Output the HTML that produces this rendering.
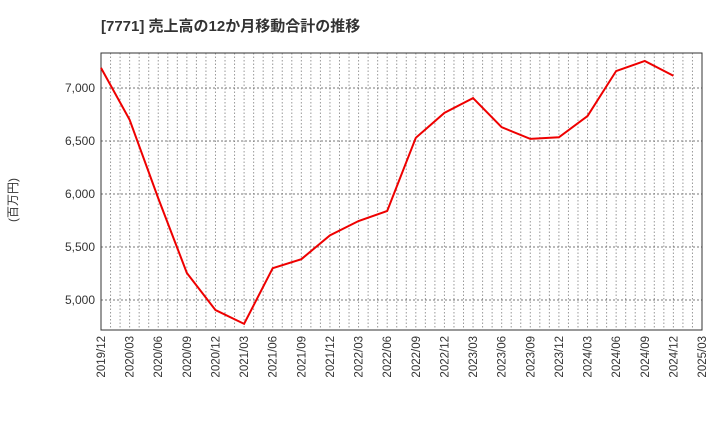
<!DOCTYPE html>
<html><head><meta charset="utf-8"><style>
body{margin:0;background:#fff;width:720px;height:440px;overflow:hidden;font-family:"Liberation Sans","Noto Sans CJK JP",sans-serif}
</style></head><body>
<svg id="chart" width="720" height="440" xmlns="http://www.w3.org/2000/svg">
<text x="101" y="31" font-size="15" font-weight="bold" fill="#333" font-family="Liberation Sans, Noto Sans CJK JP, sans-serif">[7771]  売上高の12か月移動合計の推移</text>
<text transform="translate(17,200) rotate(-90)" text-anchor="middle" font-size="12" fill="#333" font-family="Liberation Sans, Noto Sans CJK JP, sans-serif">(百万円)</text>
<g id="grid"></g><g id="axes"></g><g id="series"></g>
</svg>
<script>
const categories=["2019/12","2020/03","2020/06","2020/09","2020/12","2021/03","2021/06","2021/09","2021/12","2022/03","2022/06","2022/09","2022/12","2023/03","2023/06","2023/09","2023/12","2024/03","2024/06","2024/09","2024/12","2025/03"];
const values=[7190,6700,5960,5255,4905,4775,5300,5385,5610,5745,5840,6530,6765,6905,6630,6520,6535,6735,7160,7255,7115];
const yTicks=[5000,5500,6000,6500,7000];
const yTickLabels=["5,000","5,500","6,000","6,500","7,000"];
const L=101,R=702,T=53,B=330,yMin=4717,yMax=7330;
const NS="http://www.w3.org/2000/svg";
const xs=i=>L+(R-L)*i/(categories.length-1);
const ys=v=>B-(v-yMin)/(yMax-yMin)*(B-T);
function mk(tag,attrs,parent){const e=document.createElementNS(NS,tag);for(const k in attrs)e.setAttribute(k,attrs[k]);parent.appendChild(e);return e;}
const grid=document.getElementById('grid'),axes=document.getElementById('axes'),series=document.getElementById('series');
const nMonths=(categories.length-1)*3;
for(let m=1;m<nMonths;m++){const x=L+(R-L)*m/nMonths;
 const l=mk('line',{x1:x,x2:x,y1:T,y2:B,stroke:'#999','stroke-dasharray':'1.5,2','stroke-width':1},grid);
 
 }
yTicks.forEach((v,i)=>{const y=ys(v);
 const l=mk('line',{x1:L,x2:R,y1:y,y2:y,stroke:'#777','stroke-dasharray':'2,2','stroke-width':1},grid);
 
 
 const t=mk('text',{x:L-6,y:y+4,'text-anchor':'end','font-size':12,fill:'#333'},axes);t.textContent=yTickLabels[i];
 
 });
categories.forEach((c,i)=>{const x=xs(i);
 const t=mk('text',{transform:`translate(${x+4},${B+6}) rotate(-90)`,'text-anchor':'end','font-size':11.5,fill:'#333'},axes);t.textContent=c;
 
 });
const frame=mk('rect',{x:L,y:T,width:R-L,height:B-T,fill:'none',stroke:'#333','stroke-width':1},axes);


const line=mk('polyline',{points:values.map((v,i)=>xs(i)+','+ys(v)).join(' '),fill:'none',stroke:'#e00','stroke-width':2},series);


</script>
</body></html>
